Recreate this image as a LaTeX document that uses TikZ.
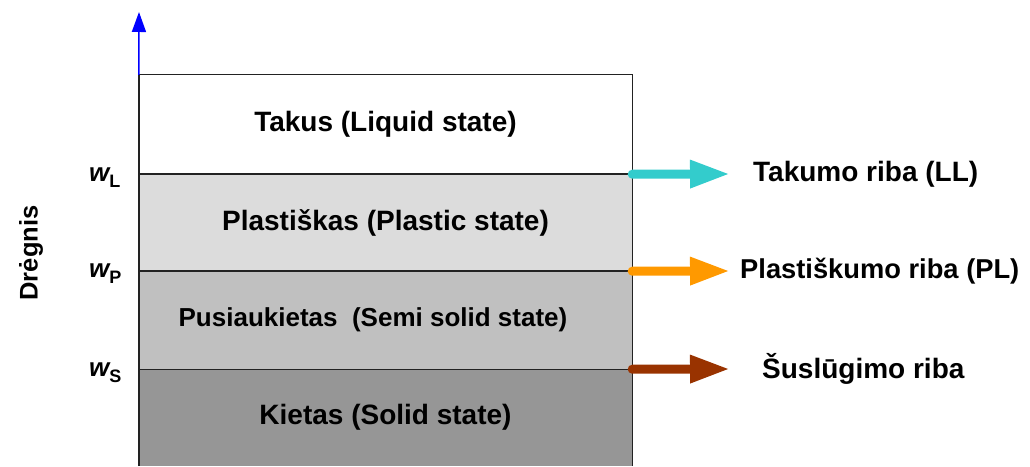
\documentclass[tikz,border=0pt]{standalone}
\usepackage{fontspec}
\setmainfont{Liberation Sans}
\usetikzlibrary{arrows.meta}
\definecolor{bandA}{HTML}{FFFFFF}
\definecolor{bandB}{HTML}{DCDCDC}
\definecolor{bandC}{HTML}{C0C0C0}
\definecolor{bandD}{HTML}{969696}
\definecolor{llcol}{HTML}{33CCCC}
\definecolor{plcol}{HTML}{FF9900}
\definecolor{slcol}{HTML}{993300}
\definecolor{edge}{HTML}{222222}
\tikzset{
  band/.style={rectangle, draw=none, inner sep=0pt, minimum width=493pt,
    font=\fontsize{28}{30}\selectfont\bfseries, text=black},
  wlabel/.style={anchor=base west, inner sep=0pt, font=\bfseries},
  limitarrow/.style={line width=9pt, line cap=round,
    -{Triangle[length=40pt,width=26pt]}},
  limittext/.style={anchor=west, inner sep=0pt, font=\fontsize{28}{30}\selectfont\bfseries},
  frame/.style={draw=edge, line width=1.4pt}
}
\newcommand{\wsub}[1]{{\fontsize{26}{26}\selectfont\itshape w}{\fontsize{18}{18}\selectfont\raisebox{-6pt}{#1}}}
\begin{document}
\begin{tikzpicture}[x=1pt,y=1pt]
\useasboundingbox (0,0) rectangle (1030,466);
% state bands, top to bottom
\node[band, fill=bandA, minimum height=99pt] (liquid) at (385.5,341.5) {Takus (Liquid state)};
\node[band, fill=bandB, minimum height=97pt] (plastic) at (385.5,243.5) {Plastiškas (Plastic state)};
\node[band, fill=bandC, minimum height=98pt] (semi) at (385.5,146) {};
\node[band, fill=bandD, minimum height=97pt] (solid) at (385.5,48.5) {Kietas (Solid state)};
\node[font=\fontsize{26}{28}\selectfont\bfseries, inner sep=0pt] (semitext) at ([xshift=-12.5pt]semi.center) {Pusiaukietas\ \ (Semi solid state)};
% outline and band boundaries
\draw[frame] (solid.south west) -- (liquid.north west) -- (liquid.north east) -- (solid.south east);
\draw[frame] (liquid.south west) -- (liquid.south east);
\draw[frame] (plastic.south west) -- (plastic.south east);
\draw[frame] (semi.south west) -- (semi.south east);
% moisture axis
\coordinate (axtop) at (139,454);
\draw[blue, line width=1.6pt, -{Triangle[length=20pt,width=14pt]}] (liquid.north west) -- (axtop);
\node[rotate=90, font=\fontsize{25.5}{27}\selectfont\bfseries] (moist) at (31,213) {Drėgnis};
% moisture limit marks
\node[wlabel] (wL) at (89,284) {\wsub{L}};
\node[wlabel] (wP) at (89,188) {\wsub{P}};
\node[wlabel] (wS) at (89,90) {\wsub{S}};
% limit arrows and names
\coordinate (llend) at (730,292);
\coordinate (plend) at (730,195);
\coordinate (slend) at (730,97);
\draw[limitarrow, llcol] (liquid.south east) -- (llend);
\draw[limitarrow, plcol] (plastic.south east) -- (plend);
\draw[limitarrow, slcol] (semi.south east) -- (slend);
\node[limittext] (ll) at (753,292) {Takumo riba (LL)};
\node[limittext, font=\fontsize{27.3}{29}\selectfont\bfseries] (pl) at (740,195) {Plastiškumo riba (PL)};
\node[limittext] (sl) at (762,97) {Šuslūgimo riba};
\end{tikzpicture}
\end{document}
